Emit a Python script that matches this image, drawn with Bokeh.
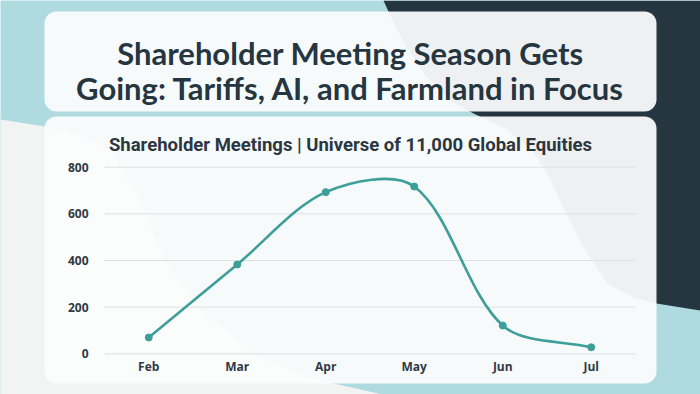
import math
from bokeh.plotting import figure
from bokeh.models import (Range1d, FixedTicker, BoxAnnotation, PolyAnnotation,
                          Label, ColumnDataSource)
from bokeh.embed import file_html
from bokeh.resources import INLINE

# ---- data ----
months = ["Feb", "Mar", "Apr", "May", "Jun", "Jul"]
meetings = [70, 383, 693, 717, 121, 28]
y_ticks = [0, 200, 400, 600, 800]
title_lines = ["Shareholder Meeting Season Gets",
               "Going: Tariffs, AI, and Farmland in Focus"]
subtitle = "Shareholder Meetings | Universe of 11,000 Global Equities"

TEAL = "#3d9e9a"
DARK = "#263640"
LIGHTBLUE = "#afdbe0"

W, H = 700, 394
# plot area of the chart: x 104..635 px, y: 0 -> 353.3 px, 800 -> 166.7 px (from top)
px_per_x = (635 - 104) / 6.0
px_per_y = (353.3 - 166.7) / 800.0
x_start = -0.5 - 104 / px_per_x
x_end = 5.5 + (W - 635) / px_per_x
y_start = -(H - 353.3) / px_per_y
y_end = 800 + 166.7 / px_per_y

p = figure(width=W, height=H, output_backend="svg", toolbar_location=None,
           x_range=Range1d(x_start, x_end), y_range=Range1d(y_start, y_end),
           min_border=0, min_border_left=0, min_border_right=0,
           min_border_top=0, min_border_bottom=0)
p.outline_line_color = None
p.border_fill_color = LIGHTBLUE
p.background_fill_color = LIGHTBLUE

# ---- background decoration (canvas units) ----
navy_x = [383, 700, 700, 656, 633, 607, 583, 563, 548, 532, 505, 473, 450, 425, 405, 392]
navy_y = [0, 0, 310, 303, 297, 283, 247, 207, 175, 150, 128, 113, 100, 75, 45, 20]
p.add_layout(PolyAnnotation(xs=navy_x, ys=navy_y, xs_units="canvas", ys_units="canvas",
                            fill_color=DARK, fill_alpha=1, line_color=None, level="image"))
blob_x = [0, 44, 80, 110, 140, 165, 200, 260, 320, 382, 0]
blob_y = [119, 126, 135, 150, 200, 260, 310, 357, 380, 394, 394]
p.add_layout(PolyAnnotation(xs=blob_x, ys=blob_y, xs_units="canvas", ys_units="canvas",
                            fill_color="#f2f4f4", fill_alpha=1, line_color=None, level="image"))

for top, bottom in [(11, 111), (116, 383)]:
    p.add_layout(BoxAnnotation(left=44, right=656, top=top, bottom=bottom,
                               left_units="canvas", right_units="canvas",
                               top_units="canvas", bottom_units="canvas",
                               fill_color="#fbfcfc", fill_alpha=0.94,
                               line_color=None, border_radius=12, level="image"))

# ---- titles ----
for txt, yb in zip(title_lines, [52, 87]):
    p.add_layout(Label(x=350, y=yb, x_units="canvas", y_units="canvas", text=txt,
                       text_align="center", text_baseline="alphabetic",
                       text_font="Lato", text_font_style="bold",
                       text_font_size="31px", text_color=DARK))
p.add_layout(Label(x=350, y=144, x_units="canvas", y_units="canvas", text=subtitle,
                   text_align="center", text_baseline="alphabetic",
                   text_font="Roboto", text_font_style="bold",
                   text_font_size="18.5px", text_color="#2b3640"))

# ---- axes (fixed inside the frame) ----
xs = list(range(len(months)))
p.xaxis.ticker = FixedTicker(ticks=xs)
p.xaxis.major_label_overrides = {i: m for i, m in zip(xs, months)}
p.yaxis.ticker = FixedTicker(ticks=y_ticks)
p.xaxis.fixed_location = -(346 - 353.3) / px_per_y
p.yaxis.fixed_location = -0.5
for ax in (p.xaxis, p.yaxis):
    ax.axis_line_color = None
    ax.major_tick_line_color = None
    ax.minor_tick_line_color = None
    ax.major_label_text_font = "Open Sans"
    ax.major_label_text_font_style = "bold"
    ax.major_label_text_font_size = "12px"
    ax.major_label_text_color = "#2f3a44"
p.xaxis.major_label_standoff = 5
p.yaxis.major_label_standoff = 10
p.xgrid.visible = False
p.ygrid.visible = False

# horizontal grid lines across the category band
p.segment(x0=-0.5, x1=5.5, y0=y_ticks, y1=y_ticks, line_color="#dde1e1", line_width=1)

# ---- smooth line through points (cubic Bezier, tension-based control points) ----
tension = 0.32
n = len(xs)
cp_prev, cp_next = [], []
for i in range(n):
    xp, yp = (xs[i - 1], meetings[i - 1]) if i > 0 else (xs[i], meetings[i])
    xn, yn = (xs[i + 1], meetings[i + 1]) if i < n - 1 else (xs[i], meetings[i])
    d01 = math.hypot((xs[i] - xp) * px_per_x, (meetings[i] - yp) * px_per_y)
    d12 = math.hypot((xn - xs[i]) * px_per_x, (yn - meetings[i]) * px_per_y)
    tot = d01 + d12
    fa = tension * d01 / tot if tot else 0
    fb = tension * d12 / tot if tot else 0
    cp_prev.append((xs[i] - fa * (xn - xp), meetings[i] - fa * (yn - yp)))
    cp_next.append((xs[i] + fb * (xn - xp), meetings[i] + fb * (yn - yp)))

seg = ColumnDataSource(dict(
    x0=xs[:-1], y0=meetings[:-1], x1=xs[1:], y1=meetings[1:],
    cx0=[c[0] for c in cp_next[:-1]], cy0=[c[1] for c in cp_next[:-1]],
    cx1=[c[0] for c in cp_prev[1:]], cy1=[c[1] for c in cp_prev[1:]],
))
p.bezier(x0="x0", y0="y0", x1="x1", y1="y1", cx0="cx0", cy0="cy0",
         cx1="cx1", cy1="cy1", source=seg, line_color=TEAL, line_width=2.6)
p.scatter(xs, meetings, size=7, color=TEAL)

html = file_html(p, INLINE)
html = html.replace("<head>", "<head><style>html,body{margin:0;padding:0;overflow:hidden;}</style>", 1)
open("out.html", "w").write(html)
